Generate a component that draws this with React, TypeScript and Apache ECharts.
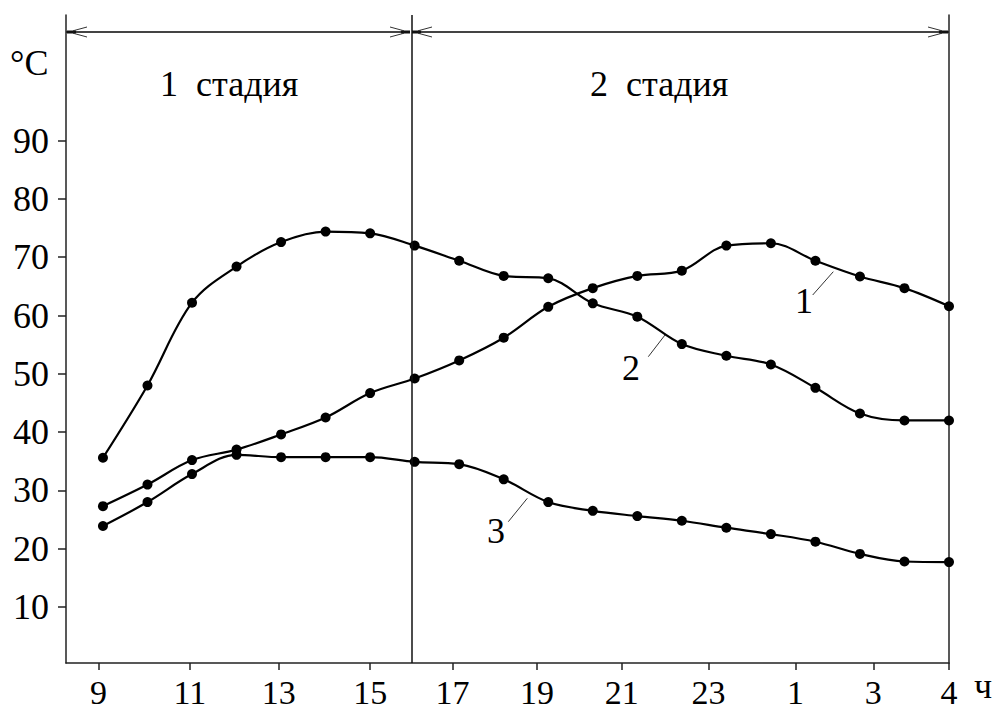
import React, { useEffect, useRef } from "react";
import * as echarts from "echarts";

// Hours of the measurements (9:00 of day 1 to 4:00 of day 2)
const times = [9, 10, 11, 12, 13, 14, 15, 16, 17, 18, 19, 20, 21, 22, 23, 0, 1, 2, 3, 4];
// Temperatures, °C
const curve1 = [27.3, 31.0, 35.2, 37.0, 39.6, 42.5, 46.7, 49.2, 52.3, 56.2, 61.5, 64.7, 66.8, 67.7, 72.0, 72.4, 69.4, 66.7, 64.7, 61.6];
const curve2 = [35.6, 48.0, 62.2, 68.4, 72.6, 74.4, 74.1, 72.0, 69.4, 66.8, 66.4, 62.1, 59.8, 55.1, 53.1, 51.6, 47.6, 43.2, 42.0, 42.0];
const curve3 = [23.9, 28.0, 32.8, 36.1, 35.7, 35.7, 35.7, 34.9, 34.5, 31.9, 28.0, 26.5, 25.6, 24.8, 23.6, 22.5, 21.2, 19.1, 17.8, 17.7];
// X tick labels and where the original drawing puts them (hours since 9:00)
const tickLabels = ["9", "11", "13", "15", "17", "19", "21", "23", "1", "3", "4"];
const tickPositions = [-0.1, 1.95, 3.95, 6.0, 7.85, 9.75, 11.65, 13.6, 15.55, 17.3, 19];
const yTicks = [10, 20, 30, 40, 50, 60, 70, 80, 90];
const stageBoundary = 6.93; // 16:00
const stageLabels = ["1  стадия", "2  стадия"];
const curveNames = ["1", "2", "3"];

const FONT = "'Liberation Serif', 'Times New Roman', serif";
const FS = 36;

function hourOffset(t: number) {
  return (t - 9 + 24) % 24;
}

function arrowHead(tip: number, y: number, dir: number) {
  return [
    { type: "rect", shape: { x: dir > 0 ? tip - 9 : tip, y: y - 1.5, width: 9, height: 3 }, style: { fill: "#111" } },
    { type: "line", shape: { x1: tip - dir * 6, y1: y - 1.2, x2: tip - dir * 20, y2: y - 5 }, style: { stroke: "#333", lineWidth: 1 } },
    { type: "line", shape: { x1: tip - dir * 6, y1: y + 1.2, x2: tip - dir * 20, y2: y + 5 }, style: { stroke: "#333", lineWidth: 1 } },
  ];
}

export default function App() {
  const ref = useRef<HTMLDivElement>(null);
  useEffect(() => {
    const chart = echarts.init(ref.current!, null, { renderer: "svg" });
    const mk = (vals: number[]) => times.map((t, i) => [hourOffset(t), vals[i]]);
    const lineSeries = (vals: number[], extra: any = {}) => ({
      type: "line",
      data: mk(vals),
      smooth: 0.35,
      symbol: "circle",
      symbolSize: 10,
      lineStyle: { color: "#000", width: 2.2 },
      itemStyle: { color: "#000" },
      silent: true,
      ...extra,
    });
    const txt = (x: number, y: number, text: string, align = "left") => ({
      type: "text",
      x,
      y,
      style: { text, font: `${FS}px ${FONT}`, fill: "#000", textAlign: align, textVerticalAlign: "top" },
    });
    const leader = (x1: number, y1: number, x2: number, y2: number) => ({
      type: "line",
      shape: { x1, y1, x2, y2 },
      style: { stroke: "#333", lineWidth: 1 },
    });
    const option: any = {
      animation: false,
      backgroundColor: "#fff",
      grid: { left: 66, right: 48, top: 15, bottom: 48, containLabel: false, outerBoundsMode: "none" },
      xAxis: {
        type: "value",
        min: -0.83,
        max: 19,
        axisLine: { show: true, onZero: false, lineStyle: { color: "#222", width: 1.5 } },
        axisTick: { show: true, length: 7, customValues: tickPositions, lineStyle: { color: "#222", width: 1.5 } },
        axisLabel: {
          customValues: tickPositions,
          margin: 12,
          fontFamily: FONT,
          fontSize: 34,
          color: "#000",
          formatter: (v: number) => {
            const i = tickPositions.findIndex((p) => Math.abs(p - v) < 1e-6);
            return i >= 0 ? tickLabels[i] : "";
          },
        },
        splitLine: { show: false },
      },
      yAxis: [
        {
          type: "value",
          min: 0.39,
          max: 111.56,
          axisLine: { show: true, onZero: false, lineStyle: { color: "#222", width: 1.5 } },
          axisTick: { show: true, length: 8, customValues: yTicks, lineStyle: { color: "#222", width: 1.5 } },
          axisLabel: { customValues: yTicks, margin: 17, fontFamily: FONT, fontSize: FS, color: "#000" },
          splitLine: { show: false },
        },
        {
          type: "value",
          position: "right",
          min: 0.39,
          max: 111.56,
          axisLine: { show: true, onZero: false, lineStyle: { color: "#222", width: 1.5 } },
          axisTick: { show: false },
          axisLabel: { show: false },
          splitLine: { show: false },
        },
      ],
      series: [
        lineSeries(curve1, {
          markLine: {
            silent: true,
            symbol: "none",
            label: { show: false },
            lineStyle: { color: "#111", width: 1.5, type: "solid" },
            data: [{ xAxis: stageBoundary }],
          },
        }),
        lineSeries(curve2),
        lineSeries(curve3),
      ],
      graphic: [
        { type: "line", shape: { x1: 66, y1: 32, x2: 410, y2: 32 }, style: { stroke: "#444", lineWidth: 2 } },
        { type: "line", shape: { x1: 412, y1: 32, x2: 949, y2: 32 }, style: { stroke: "#444", lineWidth: 2 } },
        ...arrowHead(67, 32, -1),
        ...arrowHead(410, 32, 1),
        ...arrowHead(412, 32, -1),
        ...arrowHead(948, 32, 1),
        txt(10, 45, "°C"),
        txt(160, 66, stageLabels[0]),
        txt(590, 66, stageLabels[1]),
        txt(974, 668, "ч"),
        txt(804, 283, curveNames[0], "center"),
        txt(631, 350, curveNames[1], "center"),
        txt(496, 513, curveNames[2], "center"),
        leader(812.7, 295, 833.3, 271.7),
        leader(648.3, 356.7, 665, 335),
        leader(508.3, 521.7, 527.3, 498.3),
      ],
    };
    chart.setOption(option);
    return () => chart.dispose();
  }, []);
  return (
    <div
      ref={ref}
      style={{ position: "fixed", left: 0, top: 0, width: 997, height: 711, background: "#fff" }}
    />
  );
}
